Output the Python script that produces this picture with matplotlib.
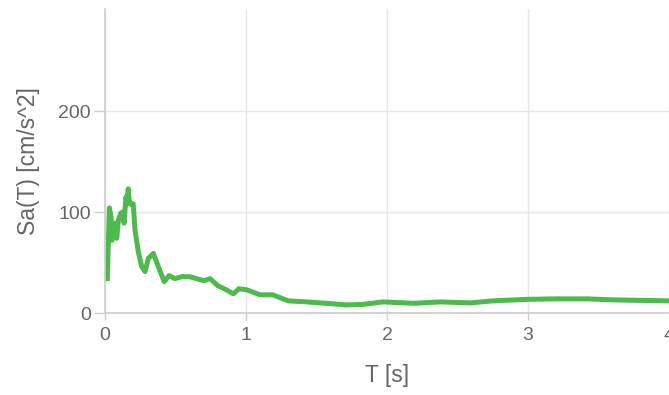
import matplotlib
matplotlib.use("Agg")
import matplotlib.pyplot as plt

# spectral acceleration
period = [0.016, 0.031, 0.043, 0.05, 0.06, 0.071, 0.083, 0.095, 0.105, 0.113,
          0.125, 0.135, 0.149, 0.157, 0.165, 0.171, 0.177, 0.189, 0.20, 0.213,
          0.236, 0.26, 0.284, 0.307, 0.343, 0.378, 0.42, 0.454,
          0.496, 0.544, 0.60, 0.65, 0.70, 0.745, 0.80, 0.86, 0.91, 0.95, 1.005,
          1.10, 1.19, 1.30, 1.43, 1.57, 1.71, 1.83, 1.97, 2.19, 2.38, 2.59,
          2.75, 2.99, 3.20, 3.42, 3.60, 4.0]
sa = [34, 104, 95, 72, 84, 89, 74, 92, 96, 99,
      100, 89, 115, 108, 123, 112, 110, 107, 108, 82,
      61, 46, 41, 54, 59, 46, 31, 37,
      34, 36, 36, 34, 32, 34, 27, 23, 19, 24, 23,
      18, 18, 12, 11, 9.6, 8, 8.5, 11, 9.6, 11, 10,
      12, 13.5, 14, 14, 13, 12]

x_ticks = [0, 1, 2, 3, 4]
y_ticks = [0, 100, 200]

plt.rcParams['font.family'] = ['Liberation Sans', 'DejaVu Sans']

fig = plt.figure(figsize=(6.69, 3.95), dpi=100)
ax = fig.add_axes([105/669, 82/395, 564/669, 304/395])

ax.plot(period, sa, color='#4cbb4c', lw=3.6, solid_joinstyle='round')

ax.set_xlim(0, 4)
ax.set_ylim(0, 301)
ax.set_xticks(x_ticks)
ax.set_yticks(y_ticks)
ax.grid(True, color='#e6e6e6', lw=1)
ax.set_axisbelow(True)
for s in ['top', 'right']:
    ax.spines[s].set_visible(False)
for s in ['left', 'bottom']:
    ax.spines[s].set_color('#cccccc')
    ax.spines[s].set_linewidth(1.2)
ax.tick_params(colors='#666666', labelsize=14, width=1)
ax.tick_params(axis='both', color='#cccccc')
ax.tick_params(axis='x', length=5, pad=5)
ax.tick_params(axis='y', length=8, pad=2)
ax.set_xlabel('T [s]', color='#666666', fontsize=16.5, va='center')
ax.set_ylabel('Sa(T) [cm/s^2]', color='#666666', fontsize=16.5, va='center')
ax.xaxis.set_label_coords(0.5, -0.207)
ax.yaxis.set_label_coords(-0.1365, 0.5)

fig.savefig('out.png', dpi=100)
